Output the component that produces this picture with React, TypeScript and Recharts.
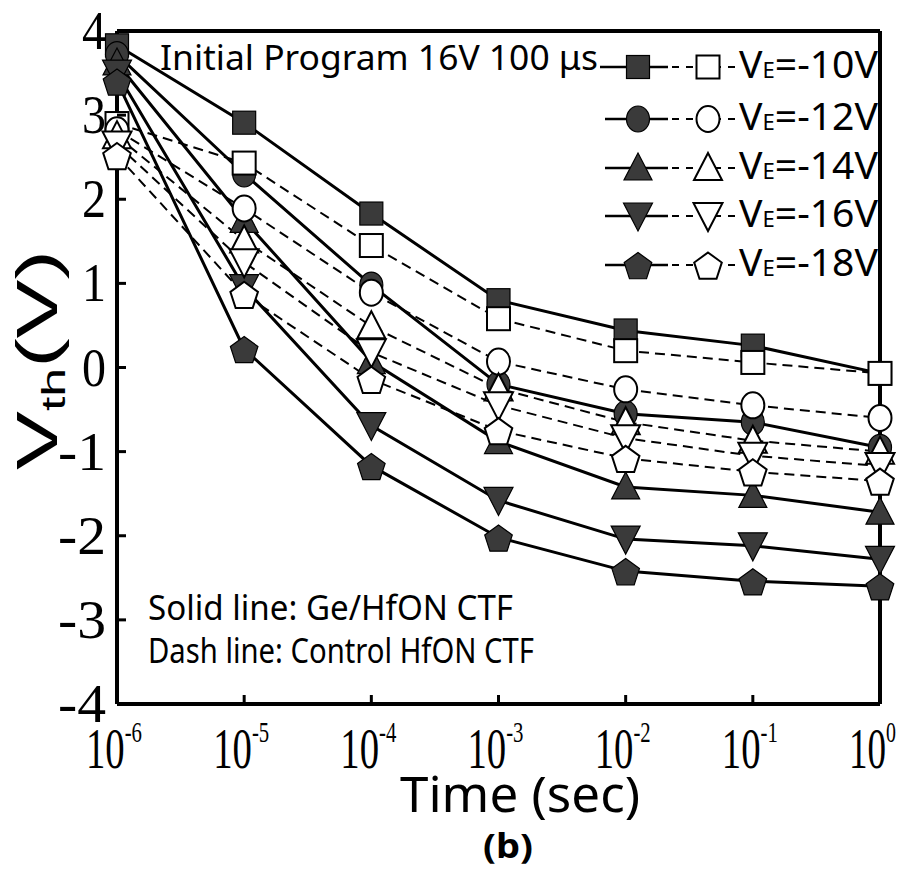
import React from "react";
import { LineChart, Line, XAxis, YAxis, ReferenceLine } from "recharts";

// Time axis as powers of ten (10^n seconds)
const timeExponents = [-6, -5, -4, -3, -2, -1, 0];
const yTicks = [4, 3, 2, 1, 0, -1, -2, -3, -4];

// Solid line: Ge/HfON CTF
const geVe10 = [3.83, 2.91, 1.83, 0.8, 0.44, 0.26, -0.07];
const geVe12 = [3.72, 2.3, 0.98, -0.2, -0.55, -0.65, -0.95];
const geVe14 = [3.62, 1.75, 0.07, -0.88, -1.42, -1.52, -1.72];
const geVe16 = [3.5, 0.95, -0.69, -1.58, -2.04, -2.12, -2.28];
const geVe18 = [3.4, 0.22, -1.17, -2.02, -2.42, -2.54, -2.6];

// Dash line: Control HfON CTF
const ctlVe10 = [2.9, 2.43, 1.45, 0.58, 0.2, 0.06, -0.07];
const ctlVe12 = [2.82, 1.89, 0.89, 0.07, -0.26, -0.45, -0.6];
const ctlVe14 = [2.75, 1.51, 0.49, -0.25, -0.65, -0.87, -1.0];
const ctlVe16 = [2.65, 1.25, 0.18, -0.45, -0.84, -1.05, -1.17];
const ctlVe18 = [2.52, 0.87, -0.14, -0.75, -1.08, -1.24, -1.35];

const legendLabels = ["-10V", "-12V", "-14V", "-16V", "-18V"];
const shapes = ["square", "circle", "triangle", "down", "pentagon"];

const geSeries = [geVe10, geVe12, geVe14, geVe16, geVe18];
const ctlSeries = [ctlVe10, ctlVe12, ctlVe14, ctlVe16, ctlVe18];

const data = timeExponents.map((t, i) => {
  const row: any = { t };
  geSeries.forEach((s, k) => (row[`ge${k}`] = s[i]));
  ctlSeries.forEach((s, k) => (row[`ctl${k}`] = s[i]));
  return row;
});

const FILL = "#3a3a3a";
const SANS = "'Noto Sans', 'DejaVu Sans', sans-serif";
const SERIF = "'Liberation Serif', 'DejaVu Serif', serif";

function Marker({ cx, cy, shape, filled }: any) {
  const fill = filled ? FILL : "#fff";
  const stroke = "#000";
  const sw = filled ? 1.2 : 2;
  if (shape === "square")
    return <rect x={cx - 11.5} y={cy - 11.5} width={23} height={23} fill={fill} stroke={stroke} strokeWidth={sw} />;
  if (shape === "circle")
    return <ellipse cx={cx} cy={cy} rx={11.5} ry={13} fill={fill} stroke={stroke} strokeWidth={sw} />;
  if (shape === "triangle")
    return (
      <polygon
        points={`${cx},${cy - 15} ${cx + 14},${cy + 12} ${cx - 14},${cy + 12}`}
        fill={fill}
        stroke={stroke}
        strokeWidth={sw}
      />
    );
  if (shape === "down")
    return (
      <polygon
        points={`${cx - 14.5},${cy - 13} ${cx + 14.5},${cy - 13} ${cx},${cy + 15}`}
        fill={fill}
        stroke={stroke}
        strokeWidth={sw}
      />
    );
  const pts = [0, 1, 2, 3, 4]
    .map((k) => {
      const a = ((-90 + 72 * k) * Math.PI) / 180;
      return `${cx + 14.5 * Math.cos(a)},${cy + 2 + 14.5 * Math.sin(a)}`;
    })
    .join(" ");
  return <polygon points={pts} fill={fill} stroke={stroke} strokeWidth={sw} />;
}

const makeDot = (shape: string, filled: boolean) => (props: any) => {
  const { cx, cy, index } = props;
  if (cx == null || cy == null) return <g key={`e${index}`} />;
  return <Marker key={`m${index}`} cx={cx} cy={cy} shape={shape} filled={filled} />;
};

function XTick(props: any) {
  const { x, y, payload } = props;
  const e = String(payload.value);
  const expW = e.length > 1 ? 20 : 11;
  return (
    <g>
      <line x1={x} x2={x} y1={y} y2={y - 9} stroke="#000" strokeWidth={3} />
      <text
        x={x + 3 - 34}
        y={y + 64}
        fontFamily={SERIF}
        fontSize={56}
        textLength={36 + expW}
        lengthAdjust="spacingAndGlyphs"
      >
        10
        <tspan fontSize={30} dy={-26}>
          {e}
        </tspan>
      </text>
    </g>
  );
}

function YTick(props: any) {
  const { x, y, payload } = props;
  const v = payload.value;
  const label = String(v);
  const w = v < 0 ? 48 : 24;
  return (
    <g>
      <line x1={x} x2={x + 9} y1={y} y2={y} stroke="#000" strokeWidth={3} />
      <text x={106 - w} y={y + 18} fontFamily={SERIF} fontSize={54} textLength={w} lengthAdjust="spacingAndGlyphs">
        {label}
      </text>
    </g>
  );
}

function Overlay() {
  const rowY = [67, 119, 168, 216, 265];
  return (
    <svg width={919} height={870} style={{ position: "absolute", left: 0, top: 0, pointerEvents: "none" }}>
      <text x={160} y={70} fontFamily={SANS} fontSize={35} textLength={438} lengthAdjust="spacingAndGlyphs">
        Initial Program 16V 100 μs
      </text>
      {rowY.map((ry, i) => (
        <g key={i}>
          <line x1={i === 0 ? 600 : 605} x2={668} y1={ry} y2={ry} stroke="#000" strokeWidth={2.5} />
          <line x1={672} x2={737} y1={ry} y2={ry} stroke="#000" strokeWidth={2} strokeDasharray="7 7" />
          <Marker cx={638} cy={ry} shape={shapes[i]} filled={true} />
          <Marker cx={708} cy={ry} shape={shapes[i]} filled={false} />
          <text x={739} y={ry + 11} fontFamily={SANS} fontSize={39} textLength={139} lengthAdjust="spacingAndGlyphs">
            V<tspan fontSize={22}>E</tspan>={legendLabels[i]}
          </text>
        </g>
      ))}
      <text x={148} y={620} fontFamily={SANS} fontSize={34} textLength={365} lengthAdjust="spacingAndGlyphs">
        Solid line: Ge/HfON CTF
      </text>
      <text x={148} y={663} fontFamily={SANS} fontSize={34} textLength={386} lengthAdjust="spacingAndGlyphs">
        Dash line: Control HfON CTF
      </text>
      <text
        transform="translate(57,360) rotate(-90)"
        x={-110}
        y={0}
        fontFamily="'Liberation Sans', Arial, sans-serif"
        fontSize={58}
        textLength={220}
        lengthAdjust="spacingAndGlyphs"
      >
        V<tspan fontSize={34} dy={8}>th</tspan>
        <tspan dy={-8}>(V)</tspan>
      </text>
      <text x={400} y={812} fontFamily={SANS} fontSize={49} textLength={240} lengthAdjust="spacingAndGlyphs">
        Time (sec)
      </text>
      <text x={483} y={858} fontFamily={SANS} fontWeight="bold" fontSize={34} textLength={50} lengthAdjust="spacingAndGlyphs">
        (b)
      </text>
    </svg>
  );
}

export default function App() {
  return (
    <div style={{ position: "absolute", left: 0, top: 0, width: 919, height: 870, background: "#fff" }}>
      <LineChart width={919} height={870} data={data} margin={{ top: 31, right: 39, bottom: 0, left: 0 }}>
        <XAxis
          dataKey="t"
          type="number"
          domain={[-6, 0]}
          ticks={timeExponents}
          height={166}
          tickSize={0}
          tickMargin={0}
          tickLine={false}
          axisLine={{ stroke: "#000", strokeWidth: 4 }}
          tick={<XTick />}
          interval={0}
        />
        <YAxis
          type="number"
          domain={[-4, 4]}
          ticks={yTicks}
          width={117}
          tickSize={0}
          tickMargin={0}
          tickLine={false}
          axisLine={{ stroke: "#000", strokeWidth: 4 }}
          tick={<YTick />}
          interval={0}
        />
        <ReferenceLine y={4} stroke="#000" strokeWidth={4} />
        <ReferenceLine x={0} stroke="#000" strokeWidth={4} />
        {geSeries.map((_, k) => (
          <Line
            key={`ge${k}`}
            dataKey={`ge${k}`}
            type="linear"
            stroke="#000"
            strokeWidth={3}
            dot={makeDot(shapes[k], true)}
            activeDot={false}
            isAnimationActive={false}
          />
        ))}
        {ctlSeries.map((_, k) => (
          <Line
            key={`ctl${k}`}
            dataKey={`ctl${k}`}
            type="linear"
            stroke="#000"
            strokeWidth={2}
            strokeDasharray="10 6"
            dot={makeDot(shapes[k], false)}
            activeDot={false}
            isAnimationActive={false}
          />
        ))}
      </LineChart>
      <Overlay />
    </div>
  );
}
